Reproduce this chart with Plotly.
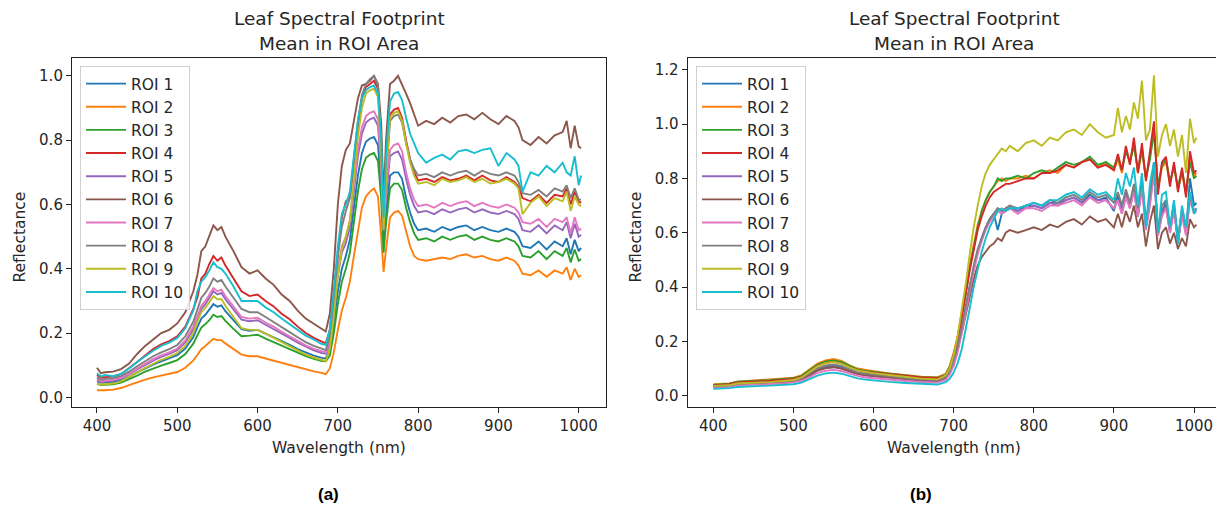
import plotly.graph_objects as go

# ---------------- data: panel (a) ----------------
WL_A = [400, 405, 410, 420, 430, 440, 450, 460, 470, 480, 490, 500, 510, 520, 525, 530, 535, 540, 545, 550,
        555, 560, 570, 580, 590, 600, 610, 620, 630, 640, 650, 660, 670, 680, 685,
        690, 695, 700, 705, 710, 715, 720, 725, 730, 735, 740, 745, 750, 754, 757, 760, 765, 770, 775, 780,
        785, 790, 795, 800,
        810, 820, 830, 840, 850, 860, 870, 880, 890, 900, 910, 920, 925, 930, 940, 950, 960, 970, 980, 985,
        990, 995, 1000, 1003]

A_ROI1 = [.050, .045, .046, .048, .053, .064, .078, .091, .102, .112, .121, .131, .152, .188, .218, .245, .257, .272, .290, .282,
          .286, .268, .240, .212, .207, .210, .198, .187, .174, .163, .150, .139, .130, .123, .121,
          .15, .23, .33, .40, .44, .49, .59, .69, .76, .795, .805, .810, .785, .65, .47, .57, .69, .700, .700, .680,
          .620, .575, .540, .520,
          .525, .515, .530, .520, .530, .535, .520, .530, .520, .515, .525, .515, .500, .470, .465, .485, .460, .485, .470, .495,
          .445, .490, .455, .465]
A_ROI2 = [.022, .021, .022, .024, .029, .038, .047, .055, .062, .068, .073, .079, .092, .115, .132, .150, .160, .170, .182, .178,
          .178, .168, .150, .133, .128, .128, .121, .114, .107, .100, .094, .087, .081, .076, .072,
          .09, .14, .21, .27, .31, .36, .44, .52, .59, .625, .640, .650, .625, .50, .39, .46, .56, .575, .580, .565,
          .515, .470, .440, .430,
          .425, .430, .435, .430, .440, .445, .435, .440, .430, .425, .435, .425, .410, .385, .380, .395, .375, .395, .385, .405,
          .365, .400, .375, .380]
A_ROI3 = [.042, .038, .039, .041, .046, .056, .068, .080, .090, .099, .107, .116, .135, .167, .193, .217, .228, .240, .257, .250,
          .253, .238, .213, .190, .192, .195, .183, .172, .160, .150, .138, .128, .120, .113, .112,
          .13, .20, .29, .36, .40, .45, .55, .64, .71, .745, .755, .760, .735, .62, .45, .54, .65, .665, .665, .645,
          .590, .545, .510, .490,
          .495, .485, .500, .490, .500, .505, .490, .500, .490, .485, .495, .485, .470, .440, .435, .455, .430, .455, .440, .465,
          .420, .460, .425, .430]
A_ROI4 = [.070, .062, .063, .065, .072, .090, .110, .130, .150, .165, .175, .190, .220, .275, .310, .370, .385, .415, .440, .425,
          .435, .410, .370, .330, .315, .320, .300, .283, .260, .243, .220, .200, .185, .172, .168,
          .21, .32, .45, .56, .61, .62, .72, .84, .93, .965, .975, .985, .96, .80, .55, .70, .88, .895, .900, .870,
          .800, .740, .700, .675,
          .680, .670, .685, .675, .680, .690, .675, .690, .675, .670, .685, .670, .655, .620, .610, .630, .605, .630, .625, .650,
          .600, .640, .610, .605]
A_ROI5 = [.052, .047, .049, .052, .058, .071, .087, .101, .114, .126, .135, .147, .171, .212, .245, .275, .290, .308, .330, .320,
          .325, .305, .272, .242, .237, .240, .226, .213, .198, .185, .170, .157, .146, .138, .136,
          .17, .27, .38, .45, .48, .53, .64, .75, .82, .855, .865, .870, .845, .70, .52, .62, .75, .760, .765, .740,
          .680, .630, .595, .575,
          .580, .570, .585, .575, .585, .590, .575, .585, .575, .570, .580, .570, .555, .520, .515, .535, .510, .535, .520, .545,
          .495, .540, .500, .505]
A_ROI6 = [.092, .075, .078, .080, .088, .105, .135, .160, .180, .200, .210, .230, .265, .330, .380, .455, .470, .500, .535, .520,
          .530, .500, .455, .405, .385, .395, .370, .350, .320, .300, .270, .245, .228, .212, .205,
          .26, .40, .60, .72, .77, .79, .86, .93, .97, .975, .985, 1.00, .975, .85, .62, .80, .975, .985, 1.00, .975,
          .945, .915, .880, .845,
          .860, .850, .870, .855, .875, .880, .865, .885, .865, .850, .875, .860, .840, .800, .785, .810, .790, .815, .825, .860,
          .775, .845, .780, .775]
A_ROI7 = [.058, .050, .052, .055, .061, .074, .090, .105, .119, .131, .140, .152, .177, .220, .255, .285, .300, .318, .340, .330,
          .335, .315, .282, .250, .245, .248, .233, .220, .204, .190, .175, .162, .151, .142, .140,
          .18, .28, .40, .47, .50, .55, .66, .77, .84, .875, .885, .890, .865, .72, .53, .64, .77, .785, .790, .765,
          .700, .650, .615, .595,
          .600, .590, .605, .595, .605, .610, .595, .605, .595, .590, .600, .590, .575, .545, .540, .555, .530, .555, .545, .560,
          .510, .560, .520, .525]
A_ROI8 = [.062, .055, .058, .060, .066, .080, .097, .113, .128, .140, .150, .163, .190, .235, .270, .310, .325, .345, .370, .360,
          .365, .345, .310, .275, .265, .265, .250, .235, .218, .203, .187, .172, .160, .150, .147,
          .19, .30, .44, .53, .58, .62, .74, .86, .94, .975, .99, 1.00, .97, .78, .53, .68, .86, .875, .880, .855,
          .790, .740, .710, .690,
          .695, .685, .700, .690, .700, .705, .690, .705, .695, .690, .700, .690, .670, .635, .630, .645, .625, .650, .640, .660,
          .620, .650, .615, .615]
A_ROI9 = [.042, .040, .041, .043, .050, .063, .078, .092, .105, .117, .126, .138, .160, .200, .235, .265, .278, .295, .315, .305,
          .305, .285, .250, .215, .210, .210, .198, .185, .170, .158, .145, .133, .124, .115, .113,
          .15, .25, .38, .46, .50, .55, .68, .81, .90, .945, .955, .960, .935, .76, .52, .68, .87, .885, .890, .860,
          .790, .730, .690, .665,
          .670, .660, .680, .670, .675, .685, .670, .680, .665, .670, .680, .665, .650, .570, .605, .625, .595, .620, .610, .640,
          .580, .625, .600, .595]
A_ROI10 = [.075, .065, .070, .066, .073, .090, .110, .128, .145, .160, .170, .185, .215, .270, .330, .360, .375, .395, .420, .405,
           .400, .385, .345, .300, .300, .300, .280, .265, .245, .228, .210, .192, .180, .166, .163,
           .21, .33, .47, .57, .60, .64, .75, .86, .93, .955, .965, .970, .945, .80, .56, .75, .92, .945, .950, .925,
           .870, .820, .790, .760,
           .730, .745, .755, .740, .765, .770, .760, .770, .775, .720, .760, .740, .720, .640, .700, .690, .720, .700, .730, .700,
           .690, .750, .660, .690]

# ---------------- data: panel (b) ----------------
WL_B = [400, 410, 420, 430, 440, 450, 460, 470, 480, 490, 500, 510, 520, 530, 540, 550, 560, 570, 580, 590, 600,
        620, 640, 660, 680,
        690, 695, 700, 705, 710, 715, 720, 725, 730, 735, 740, 745, 750, 755, 760, 765, 770,
        780, 790, 800, 810, 820, 830, 840, 850, 860, 870, 880, 890, 900,
        905, 910, 915, 920, 925, 930, 935, 940, 945, 950, 955, 960, 965, 970, 975, 980, 985, 990, 995, 1000, 1003]

B_ROI1 = [.034, .035, .037, .042, .044, .045, .046, .047, .049, .050, .054, .061, .077, .096, .106, .110, .105, .093, .083, .077, .074,
          .068, .062, .057, .055,
          .065, .085, .12, .17, .24, .32, .40, .47, .53, .58, .62, .65, .67, .61, .67, .68, .69,
          .68, .70, .70, .69, .71, .71, .72, .73, .71, .74, .72, .73, .68,
          .74, .68, .75, .70, .77, .66, .79, .62, .72, .84, .60, .68, .71, .61, .70, .56, .68, .60, .80, .70, .71]
B_ROI2 = [.042, .043, .045, .052, .054, .056, .057, .058, .060, .062, .066, .075, .095, .118, .130, .135, .128, .112, .100, .094, .090,
          .082, .076, .070, .068,
          .08, .11, .16, .22, .30, .39, .48, .56, .63, .68, .72, .75, .77, .79, .80, .79, .80,
          .80, .81, .80, .82, .83, .82, .85, .84, .86, .87, .84, .86, .83,
          .87, .82, .91, .86, .93, .82, .90, .80, .88, .99, .76, .84, .86, .78, .85, .76, .82, .74, .88, .81, .82]
B_ROI3 = [.040, .041, .044, .052, .054, .055, .056, .057, .059, .061, .064, .073, .092, .114, .126, .130, .124, .109, .097, .091, .088,
          .080, .074, .068, .066,
          .078, .105, .15, .21, .29, .38, .47, .55, .62, .68, .72, .75, .77, .80, .79, .80, .80,
          .81, .80, .82, .83, .82, .84, .86, .85, .86, .88, .85, .86, .84,
          .88, .83, .90, .86, .92, .83, .91, .80, .87, .97, .77, .85, .87, .79, .84, .77, .83, .75, .86, .80, .81]
B_ROI4 = [.038, .040, .042, .049, .051, .052, .053, .054, .056, .058, .062, .070, .088, .110, .121, .125, .119, .105, .094, .088, .085,
          .078, .072, .067, .064,
          .075, .10, .145, .20, .28, .37, .46, .54, .61, .66, .70, .73, .75, .76, .77, .78, .78,
          .79, .80, .80, .82, .82, .83, .85, .84, .86, .87, .84, .85, .83,
          .89, .83, .92, .85, .95, .82, .93, .79, .90, 1.01, .74, .86, .88, .77, .86, .75, .84, .73, .90, .82, .83]
B_ROI5 = [.033, .034, .036, .041, .043, .044, .045, .046, .047, .049, .052, .059, .074, .092, .102, .105, .100, .089, .080, .074, .071,
          .065, .060, .055, .053,
          .063, .083, .12, .17, .24, .32, .40, .47, .53, .58, .62, .65, .67, .69, .68, .69, .70,
          .68, .69, .70, .69, .71, .70, .72, .73, .71, .73, .72, .72, .69,
          .72, .67, .74, .69, .76, .66, .77, .62, .71, .83, .59, .67, .70, .60, .69, .57, .67, .60, .74, .68, .68]
B_ROI6 = [.036, .037, .039, .044, .046, .047, .048, .049, .050, .052, .055, .062, .076, .093, .102, .105, .100, .090, .081, .076, .073,
          .067, .062, .058, .056,
          .066, .085, .12, .17, .23, .30, .37, .43, .48, .51, .53, .55, .56, .58, .57, .60, .61,
          .60, .61, .62, .61, .63, .62, .64, .65, .63, .66, .64, .65, .62,
          .67, .62, .68, .64, .70, .62, .67, .55, .64, .70, .54, .60, .62, .56, .60, .54, .58, .55, .65, .62, .63]
B_ROI7 = [.030, .031, .033, .038, .040, .041, .042, .043, .044, .046, .049, .055, .068, .084, .092, .095, .091, .081, .073, .067, .064,
          .059, .054, .050, .048,
          .058, .078, .11, .16, .23, .31, .39, .46, .52, .57, .61, .64, .66, .68, .67, .68, .69,
          .67, .69, .69, .68, .70, .70, .71, .72, .70, .73, .71, .72, .69,
          .72, .67, .73, .69, .75, .66, .76, .61, .70, .82, .59, .66, .69, .60, .68, .57, .66, .59, .72, .67, .68]
B_ROI8 = [.035, .036, .038, .044, .046, .047, .048, .049, .051, .052, .056, .064, .081, .101, .111, .115, .110, .097, .087, .081, .078,
          .071, .065, .060, .058,
          .068, .09, .13, .18, .25, .33, .41, .48, .54, .58, .62, .65, .67, .69, .68, .69, .70,
          .69, .70, .71, .70, .72, .71, .73, .74, .72, .75, .73, .74, .71,
          .75, .70, .76, .71, .78, .69, .80, .64, .74, .86, .60, .70, .72, .62, .71, .58, .69, .62, .74, .68, .69]
B_ROI9 = [.036, .037, .039, .045, .047, .048, .049, .050, .052, .054, .058, .067, .086, .108, .120, .124, .118, .104, .093, .087, .083,
          .076, .069, .063, .060,
          .075, .10, .15, .22, .31, .41, .52, .62, .70, .77, .82, .85, .87, .89, .91, .90, .92,
          .90, .93, .94, .92, .95, .94, .97, .98, .96, 1.00, .97, .95, .96,
          1.06, .97, 1.03, .98, 1.08, 1.02, 1.16, .94, .98, 1.18, .88, .96, 1.00, .92, .98, .88, .96, .82, 1.02, .93, .95]
B_ROI10 = [.025, .026, .028, .032, .034, .035, .036, .037, .038, .039, .042, .048, .060, .074, .082, .085, .081, .072, .064, .059, .056,
           .051, .047, .043, .041,
           .050, .062, .085, .12, .17, .24, .32, .40, .47, .53, .58, .62, .65, .68, .69, .68, .69,
           .69, .70, .71, .70, .72, .72, .74, .75, .73, .76, .74, .75, .72,
           .80, .74, .82, .77, .84, .70, .82, .62, .78, .86, .60, .74, .75, .62, .72, .56, .70, .62, .75, .67, .69]

ROI_NAMES = ["ROI 1", "ROI 2", "ROI 3", "ROI 4", "ROI 5", "ROI 6", "ROI 7", "ROI 8", "ROI 9", "ROI 10"]
SERIES_A = [A_ROI1, A_ROI2, A_ROI3, A_ROI4, A_ROI5, A_ROI6, A_ROI7, A_ROI8, A_ROI9, A_ROI10]
SERIES_B = [B_ROI1, B_ROI2, B_ROI3, B_ROI4, B_ROI5, B_ROI6, B_ROI7, B_ROI8, B_ROI9, B_ROI10]
X_TICKS = [400, 500, 600, 700, 800, 900, 1000]
Y_TICKS_A = [0.0, 0.2, 0.4, 0.6, 0.8, 1.0]
Y_TICKS_B = [0.0, 0.2, 0.4, 0.6, 0.8, 1.0, 1.2]

for nm, s in zip(ROI_NAMES, SERIES_A):
    if len(s) != len(WL_A):
        raise ValueError(f"A {nm}: {len(s)} vs {len(WL_A)}")
for nm, s in zip(ROI_NAMES, SERIES_B):
    if len(s) != len(WL_B):
        raise ValueError(f"B {nm}: {len(s)} vs {len(WL_B)}")

COLORS = ["#1f77b4", "#ff7f0e", "#2ca02c", "#d62728", "#9467bd",
          "#8c564b", "#e377c2", "#7f7f7f", "#bcbd22", "#17becf"]

# the page body has an 8px margin, so the figure is drawn 8px in from the top-left
PAGE_W, PAGE_H, OFF = 1224, 514, 8
W, H = PAGE_W - OFF, PAGE_H - OFF
FONT = "DejaVu Sans"
TXT = "#262626"

fig = go.Figure()
for nm, s, c in zip(ROI_NAMES, SERIES_A, COLORS):
    fig.add_trace(go.Scatter(x=WL_A, y=s, name=nm, mode="lines", line=dict(color=c, width=1.9),
                             xaxis="x", yaxis="y", legend="legend"))
for nm, s, c in zip(ROI_NAMES, SERIES_B, COLORS):
    fig.add_trace(go.Scatter(x=WL_B, y=s, name=nm, mode="lines", line=dict(color=c, width=1.9),
                             xaxis="x2", yaxis="y2", legend="legend2"))

# target page-pixel geometry of the two axes boxes
AX = [(72, 606), (687.7, 1221)]
TOP, BOT = 58.2, 406.7


def px(x):
    return (x - OFF) / W


def py(y):
    return (PAGE_H - y) / H


ydom = [py(BOT), py(TOP)]

axis_common = dict(showline=True, linecolor="#222", linewidth=1.1, mirror=True, ticks="outside",
                   ticklen=5, tickwidth=1, tickcolor="#222", showgrid=False, zeroline=False,
                   tickfont=dict(family=FONT, size=15, color=TXT))

legend_common = dict(xanchor="left", yanchor="top", bgcolor="rgba(255,255,255,0.85)",
                     bordercolor="#d0d0d0", borderwidth=1, itemwidth=40,
                     font=dict(family=FONT, size=15.5, color=TXT))

fig.update_layout(
    width=W, height=H, margin=dict(l=0, r=0, t=0, b=0),
    paper_bgcolor="white", plot_bgcolor="white",
    xaxis=dict(domain=[px(AX[0][0]), px(AX[0][1])], range=[368.9, 1034], tickvals=X_TICKS,
               anchor="y", **axis_common),
    yaxis=dict(domain=ydom, range=[-0.029, 1.055], tickvals=Y_TICKS_A, tickformat=".1f",
               anchor="x", **axis_common),
    xaxis2=dict(domain=[px(AX[1][0]), px(AX[1][1])], range=[368.0, 1033.7], tickvals=X_TICKS,
                anchor="y2", **axis_common),
    yaxis2=dict(domain=ydom, range=[-0.0405, 1.2427], tickvals=Y_TICKS_B, tickformat=".1f",
                anchor="x2", **axis_common),
    legend=dict(x=px(80), y=py(66), **legend_common),
    legend2=dict(x=px(696), y=py(66), **legend_common),
    showlegend=True,
)

annots = []
for (l, r), lab, labx in zip(AX, ["(a)", "(b)"], [328, 921]):
    cx = (l + r) / 2
    annots.append(dict(text="Leaf Spectral Footprint", x=px(cx), y=py(18.5), xref="paper", yref="paper",
                       showarrow=False, xanchor="center", yanchor="middle",
                       font=dict(family=FONT, size=18.5, color=TXT)))
    annots.append(dict(text="Mean in ROI Area", x=px(cx), y=py(43.5), xref="paper", yref="paper",
                       showarrow=False, xanchor="center", yanchor="middle",
                       font=dict(family=FONT, size=18.5, color=TXT)))
    annots.append(dict(text="Wavelength (nm)", x=px(cx), y=py(448), xref="paper", yref="paper",
                       showarrow=False, xanchor="center", yanchor="middle",
                       font=dict(family=FONT, size=15.5, color=TXT)))
    annots.append(dict(text="<b>" + lab + "</b>", x=px(labx), y=py(494), xref="paper", yref="paper",
                       showarrow=False, xanchor="center", yanchor="middle",
                       font=dict(family="Liberation Sans", size=17, color="black")))
for ylx in [19.5, 635.5]:
    annots.append(dict(text="Reflectance", x=px(ylx), y=py(237), xref="paper", yref="paper", textangle=-90,
                       showarrow=False, xanchor="center", yanchor="middle",
                       font=dict(family=FONT, size=15.5, color=TXT)))
fig.update_layout(annotations=annots)

fig.write_html("out.html")
